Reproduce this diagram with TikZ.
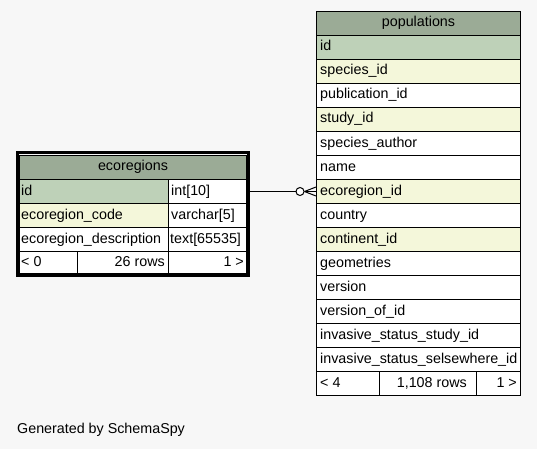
\documentclass[tikz,border=0pt]{standalone}
\usepackage{fontspec}
\setmainfont{Liberation Sans}
\definecolor{bg}{HTML}{F7F7F7}
\definecolor{hdr}{HTML}{9BAB96}
\definecolor{pk}{HTML}{BED1B8}
\definecolor{idx}{HTML}{F4F7DA}
\definecolor{plain}{HTML}{FFFFFF}
\begin{document}
\begin{tikzpicture}[x=1pt,y=-1pt,
  every node/.style={font=\fontsize{14.3}{16}\selectfont, inner sep=0pt},
  cell/.style={draw=black, line width=1pt},
  lbl/.style={anchor=base west},
  rlbl/.style={anchor=base east},
  hlbl/.style={anchor=base}]
\useasboundingbox (0,0) rectangle (537,449);
\fill[bg] (0,0) rectangle (537,449);

% ---------------- populations ----------------
\filldraw[cell, fill=hdr] (316.5,11.5) rectangle (520.5,35.5);
\node[hlbl] (ptitle) at (418.5,26.5) {populations};
\foreach \n/\c [count=\i from 0] in {
  id/pk,
  species\textunderscore id/idx,
  publication\textunderscore id/plain,
  study\textunderscore id/idx,
  species\textunderscore author/plain,
  name/plain,
  ecoregion\textunderscore id/idx,
  country/plain,
  continent\textunderscore id/idx,
  geometries/plain,
  version/plain,
  version\textunderscore of\textunderscore id/plain,
  invasive\textunderscore status\textunderscore study\textunderscore id/plain,
  invasive\textunderscore status\textunderscore selsewhere\textunderscore id/plain}
{
  \pgfmathsetmacro{\yt}{35.5+24*\i}
  \filldraw[cell, fill=\c] (316.5,\yt) rectangle (520.5,\yt+24);
  \node[lbl] (p\i) at (320,\yt+15.5) {\n};
}
% footer
\filldraw[cell, fill=plain] (316.5,371.5) rectangle (520.5,395.5);
\draw[cell] (379.5,371.5) -- (379.5,395.5);
\draw[cell] (476.5,371.5) -- (476.5,395.5);
\node[lbl] (pf1) at (320,387) {< 4};
\node[rlbl] (pf2) at (467,387) {1,108 rows};
\node[rlbl] (pf3) at (517,387) {1 >};

% ---------------- ecoregions ----------------
\filldraw[cell, fill=hdr] (19.5,155.5) rectangle (246.5,179.5);
\node[hlbl] (etitle) at (133,170.5) {ecoregions};
\filldraw[cell, fill=pk] (19.5,179.5) rectangle (168.5,203.5);
\filldraw[cell, fill=plain] (168.5,179.5) rectangle (246.5,203.5);
\filldraw[cell, fill=idx] (19.5,203.5) rectangle (168.5,227.5);
\filldraw[cell, fill=plain] (168.5,203.5) rectangle (246.5,227.5);
\filldraw[cell, fill=plain] (19.5,227.5) rectangle (168.5,251.5);
\filldraw[cell, fill=plain] (168.5,227.5) rectangle (246.5,251.5);
\filldraw[cell, fill=plain] (19.5,251.5) rectangle (246.5,273.5);
\draw[cell] (77.5,251.5) -- (77.5,273.5);
\draw[cell] (168.5,251.5) -- (168.5,273.5);
\node[lbl] (e1) at (21,195) {id};
\node[lbl] (e1t) at (171,195) {int[10]};
\node[lbl] (e2) at (21,219) {ecoregion\textunderscore code};
\node[lbl] (e2t) at (171,219) {varchar[5]};
\node[lbl] (e3) at (21,243) {ecoregion\textunderscore description};
\node[lbl] (e3t) at (170,243) {text[65535]};
\node[lbl] (ef1) at (21,266) {< 0};
\node[rlbl] (ef2) at (165,266) {26 rows};
\node[rlbl] (ef3) at (244,266) {1 >};
\draw[line width=3pt] (17.5,152.5) rectangle (248.5,275.5);

% anchors for the connector
\coordinate (eid) at (250,191.5);
\coordinate (pid) at (316,191.5);
\coordinate (circ) at (300,191.5);
\coordinate (foot) at (304.5,191.5);
\coordinate (ftop) at (316,187);
\coordinate (fbot) at (316,196);

% ---------------- connector ----------------
\draw[line width=1pt] (eid) -- ([xshift=-4pt]circ);
\draw[line width=1pt, fill=white] (circ) circle[radius=4pt];
\draw[line width=1pt] (foot) -- (pid);
\draw[line width=1pt] (foot) -- (ftop);
\draw[line width=1pt] (foot) -- (fbot);

% ---------------- footer text ----------------
\node[lbl] (gen) at (17,433.5) {Generated by SchemaSpy};
\end{tikzpicture}
\end{document}
